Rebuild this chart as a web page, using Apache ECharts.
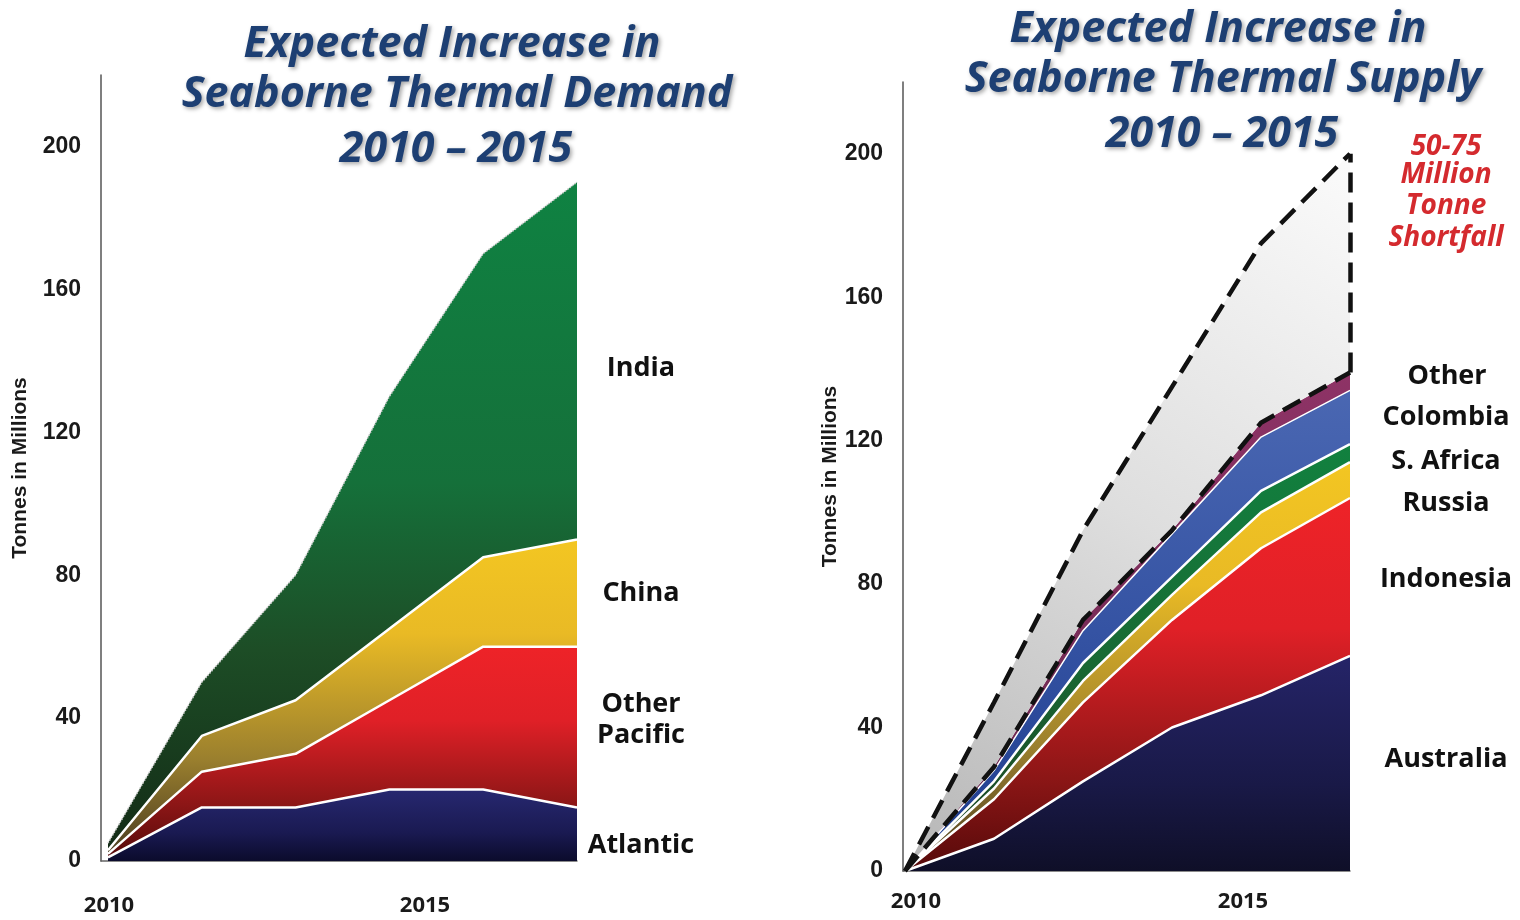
<!DOCTYPE html>
<html>
<head>
<meta charset="utf-8">
<script src="https://cdn.jsdelivr.net/npm/echarts@6/dist/echarts.min.js"></script>
<style>
  html, body { margin: 0; padding: 0; background: #ffffff; }
  #chart { width: 1520px; height: 920px; }
</style>
</head>
<body>
<div id="chart"></div>
<script>
// ---- Demand (million tonnes, stacked), six steps ----
const steps = ['0', '1', '2', '3', '4', '5'];
const atlantic     = [1, 15, 15, 20, 20, 15];
const otherPacific = [1, 10, 15, 25, 40, 45];
const china        = [1, 10, 15, 20, 25, 30];
const india        = [2, 15, 35, 65, 85, 100];

// ---- Supply (million tonnes, stacked) ----
const australia   = [0, 9, 25, 40, 49, 60];
const indonesia   = [0, 11, 22, 30, 41, 44];
const russia      = [0, 3, 6, 7, 10, 10];
const southAfrica = [0, 2, 5, 5, 6, 5];
const colombia    = [0, 3, 9, 12, 15, 15];
const otherSupply = [0, 1, 3, 1, 4, 5];
// projected seaborne demand line drawn over the supply stack
const projectedDemand = [0, 47, 95, 135, 175, 200];

// ---- Tick labels ----
const yearTicks = [2010, 2015];
const valueTicks = [0, 40, 80, 120, 160, 200];

const supplyTop = steps.map((_, i) =>
  australia[i] + indonesia[i] + russia[i] + southAfrica[i] + colombia[i] + otherSupply[i]);
const shortfall = steps.map((_, i) => projectedDemand[i] - supplyTop[i]);
const last = steps.length - 1;

function vgrad(stops) {
  return { type: 'linear', x: 0, y: 0, x2: 0, y2: 1,
    colorStops: stops.map(s => ({ offset: s[0], color: s[1] })) };
}

const NAVY   = vgrad([[0, '#272870'], [0.6, '#1a1a52'], [1, '#0b0b2c']]);
const RED    = vgrad([[0, '#ee2328'], [0.35, '#e02027'], [0.75, '#8c1616'], [1, '#560a0a']]);
const YELLOW = vgrad([[0, '#f3c622'], [0.3, '#e9ba25'], [0.7, '#9a7f2e'], [1, '#4a3c20']]);
const GREEN  = vgrad([[0, '#0f8242'], [0.45, '#15703a'], [0.7, '#1d4d26'], [1, '#132b16']]);
const GREEN2 = vgrad([[0, '#11813f'], [0.5, '#196a34'], [1, '#1c3e1f']]);
const BLUE   = vgrad([[0, '#4a67b2'], [0.5, '#3553a3'], [1, '#1c3a8c']]);
const PURPLE = vgrad([[0, '#8e3366'], [1, '#66264c']]);
const NAVY2  = vgrad([[0, '#252468'], [0.6, '#191947'], [1, '#0f0f28']]);
const GREY   = { type: 'linear', x: 1, y: 0, x2: 0, y2: 1,
  colorStops: [{ offset: 0, color: '#fbfbfb' }, { offset: 0.5, color: '#dedede' }, { offset: 1, color: '#b6b6b6' }] };

const tickFont = { fontFamily: 'Liberation Sans, Arial, sans-serif', fontWeight: 'bold', fontSize: 23, color: '#1a1a1a' };
const yearFont = { fontFamily: 'Open Sans, sans-serif', fontWeight: 'bold', fontSize: 22, color: '#1a1a1a' };
const nameFont = { fontFamily: 'Liberation Sans Narrow, Arial Narrow, sans-serif', fontWeight: 'bold', fontSize: 21, color: '#1a1a1a' };

// visible value axis on the frame grid
function valueAxis(gridIndex, nameGap) {
  return {
    type: 'value', gridIndex, min: 0, max: 220, interval: 40,
    name: 'Tonnes in Millions', nameLocation: 'middle', nameRotate: 90, nameGap,
    nameTextStyle: nameFont,
    axisLine: { show: true, lineStyle: { color: '#555', width: 1.5 } },
    axisTick: { show: false },
    splitLine: { show: false },
    axisLabel: Object.assign({ margin: 20, showMaxLabel: false,
      formatter: v => (valueTicks.indexOf(v) >= 0 ? String(v) : '') }, tickFont)
  };
}
// hidden value axis on the data grid (same scale)
function hiddenValueAxis(gridIndex) {
  return {
    type: 'value', gridIndex, min: 0, max: 220, interval: 40, show: false,
    splitLine: { show: false }
  };
}
function stepAxis(gridIndex) {
  return {
    type: 'category', gridIndex, data: steps, boundaryGap: false, show: false
  };
}
function yearAxis(gridIndex, min, max, margin) {
  return {
    type: 'value', gridIndex, min, max, position: 'bottom',
    axisLine: { show: true, onZero: false, lineStyle: { color: '#666', width: 1.5 } },
    axisTick: { show: false }, splitLine: { show: false },
    axisLabel: Object.assign({ customValues: yearTicks, margin, formatter: v => String(v) }, yearFont)
  };
}

function band(name, stack, xi, yi, data, color, line) {
  return {
    type: 'line', name, stack, xAxisIndex: xi, yAxisIndex: yi,
    data, symbol: 'none', smooth: false,
    lineStyle: line || { color: '#ffffff', width: 2.5 },
    areaStyle: { color, opacity: 1 },
    emphasis: { disabled: true }
  };
}

const dashed = { color: '#111111', width: 4.5, type: [20, 10] };

const titleStyle = {
  fontFamily: 'Open Sans, sans-serif', fontWeight: 'bold', fontStyle: 'italic',
  fontSize: 43, fill: '#1d3f73', align: 'center', verticalAlign: 'middle',
  textShadowColor: 'rgba(0,0,0,0.35)', textShadowBlur: 4, textShadowOffsetX: 2, textShadowOffsetY: 2
};
const labelStyle = {
  fontFamily: 'Open Sans, sans-serif', fontWeight: 'bold', fontSize: 27,
  fill: '#111111', align: 'center', verticalAlign: 'middle'
};
const noteStyle = {
  fontFamily: 'Open Sans, sans-serif', fontWeight: 'bold', fontStyle: 'italic', fontSize: 28,
  fill: '#d42a2e', align: 'center', verticalAlign: 'middle'
};

function txt(text, x, y, style) {
  return { type: 'text', x, y, silent: true, style: Object.assign({ text }, style) };
}

const chart = echarts.init(document.getElementById('chart'), null, { renderer: 'canvas' });

chart.setOption({
  animation: false,
  backgroundColor: '#ffffff',
  grid: [
    { left: 108, top: 75, width: 469, height: 786 },   // demand data
    { left: 101, top: 75, width: 476, height: 786 },   // demand frame
    { left: 905, top: 82, width: 445, height: 789 },   // supply data
    { left: 903, top: 82, width: 447, height: 789 }    // supply frame
  ],
  xAxis: [
    stepAxis(0),
    yearAxis(1, 2009.873, 2017.405, 34),
    stepAxis(2),
    yearAxis(3, 2009.801, 2016.636, 20)
  ],
  yAxis: [
    hiddenValueAxis(0),
    valueAxis(1, 70),
    hiddenValueAxis(2),
    valueAxis(3, 62)
  ],
  series: [
    band('Atlantic', 'demand', 0, 0, atlantic, NAVY),
    band('Other Pacific', 'demand', 0, 0, otherPacific, RED),
    band('China', 'demand', 0, 0, china, YELLOW),
    band('India', 'demand', 0, 0, india, GREEN, { color: '#c9c9c9', width: 1.5, type: 'dotted' }),

    band('Australia', 'supply', 2, 2, australia, NAVY2),
    band('Indonesia', 'supply', 2, 2, indonesia, RED),
    band('Russia', 'supply', 2, 2, russia, YELLOW),
    band('S. Africa', 'supply', 2, 2, southAfrica, GREEN2),
    band('Colombia', 'supply', 2, 2, colombia, BLUE, { color: '#ffffff', width: 1.5 }),
    band('Other', 'supply', 2, 2, otherSupply, PURPLE, { width: 0, opacity: 0 }),
    band('Shortfall', 'supply', 2, 2, shortfall, GREY, { width: 0, opacity: 0 }),
    {
      type: 'line', name: 'Supply total', xAxisIndex: 2, yAxisIndex: 2,
      data: supplyTop, symbol: 'none', z: 5, lineStyle: dashed,
      emphasis: { disabled: true }
    },
    {
      type: 'line', name: 'Projected demand', xAxisIndex: 2, yAxisIndex: 2,
      data: projectedDemand, symbol: 'none', z: 5, lineStyle: dashed,
      emphasis: { disabled: true },
      markLine: {
        silent: true, symbol: ['none', 'none'], label: { show: false },
        lineStyle: dashed, emphasis: { disabled: true },
        data: [[{ coord: [last, supplyTop[last]] }, { coord: [last, projectedDemand[last]] }]]
      }
    }
  ],
  graphic: [
    txt('Expected Increase in', 452, 45, titleStyle),
    txt('Seaborne Thermal Demand', 457, 95, titleStyle),
    txt('2010 \u2013 2015', 456, 150, titleStyle),
    txt('Expected Increase in', 1218, 30, titleStyle),
    txt('Seaborne Thermal Supply', 1223, 80, titleStyle),
    txt('2010 \u2013 2015', 1222, 135, titleStyle),

    txt('India', 641, 368, labelStyle),
    txt('China', 641, 593, labelStyle),
    txt('Other', 641, 704, labelStyle),
    txt('Pacific', 641, 735, labelStyle),
    txt('Atlantic', 641, 845, labelStyle),

    txt('50-75', 1446, 147, noteStyle),
    txt('Million', 1446, 175, noteStyle),
    txt('Tonne', 1446, 206, noteStyle),
    txt('Shortfall', 1446, 238, noteStyle),

    txt('Other', 1447, 376, labelStyle),
    txt('Colombia', 1446, 417, labelStyle),
    txt('S. Africa', 1446, 461, labelStyle),
    txt('Russia', 1446, 503, labelStyle),
    txt('Indonesia', 1446, 579, labelStyle),
    txt('Australia', 1446, 759, labelStyle)
  ]
});
</script>
</body>
</html>
